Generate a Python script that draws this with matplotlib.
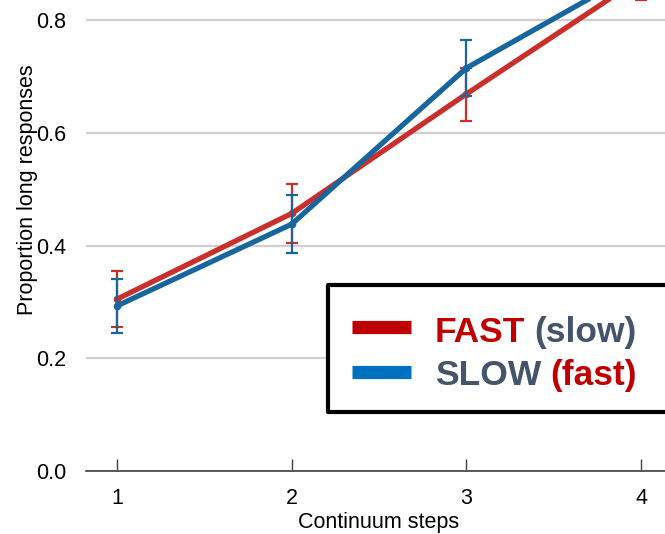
import matplotlib
matplotlib.use("Agg")
import matplotlib.pyplot as plt
from matplotlib.patches import Rectangle
from matplotlib.lines import Line2D

plt.rcParams['font.family'] = ['Liberation Sans', 'DejaVu Sans']

# proportion of "long" responses per continuum step, with error bars
steps = [1, 2, 3, 4]
fast = [0.305, 0.457, 0.669, 0.875]
fast_err = [0.050, 0.052, 0.047, 0.040]
slow = [0.293, 0.438, 0.715, 0.890]
slow_err = [0.048, 0.052, 0.050, 0.050]

y_ticks = [0.0, 0.2, 0.4, 0.6, 0.8]
legend_names = ['FAST', 'SLOW']
legend_notes = ['(slow)', '(fast)']

red = '#C9302C'
blue = '#17679E'
key_red = '#C00000'
key_blue = '#0070C0'
slate = '#44546A'

W, H = 665, 534
fig = plt.figure(figsize=(W / 100, H / 100), dpi=100)
ax = fig.add_axes([86 / W, 63 / H, 586 / W, 563.5 / H])

ax.errorbar(steps, fast, yerr=fast_err, color=red, lw=3.8, elinewidth=1.6,
            capsize=4.5, capthick=1.6, marker='o', ms=4.5, zorder=3,
            solid_capstyle='round')
ax.errorbar(steps, slow, yerr=slow_err, color=blue, lw=3.8, elinewidth=1.6,
            capsize=4.5, capthick=1.6, marker='o', ms=4.5, zorder=4,
            solid_capstyle='round')

ax.set_xlim(0.8226, 4.1774)
ax.set_ylim(0, 1.0)
ax.set_xticks(steps)
ax.set_yticks(y_ticks)
ax.set_yticklabels(['%.1f' % v for v in y_ticks])

for side in ['top', 'right', 'left']:
    ax.spines[side].set_visible(False)
ax.spines['bottom'].set_color('#404040')
ax.spines['bottom'].set_linewidth(1.2)

ax.yaxis.grid(True, color='#CFCFCF', lw=1.6)
ax.set_axisbelow(True)
ax.tick_params(axis='x', direction='in', length=9, width=1.0, color='#404040',
               pad=12, labelsize=15.5)
ax.tick_params(axis='y', length=0, pad=14, labelsize=15.5)

ax.set_xlabel('Continuum steps', fontsize=15.5)
ax.xaxis.set_label_coords(0.5, -0.072)
ax.set_ylabel('Proportion long responses', fontsize=15.5)
ax.yaxis.set_label_coords(-0.082, 0.5)


def fx(x):
    return x / W


def fy(y):
    return 1 - y / H


# key box, drawn by hand so each label can carry two colours
fig.add_artist(Rectangle((fx(328), fy(412)), fx(760 - 328), 127 / H,
                         transform=fig.transFigure, fc='white', ec='black',
                         lw=3, joinstyle='round', zorder=10))
key_colors = [key_red, key_blue]
name_colors = [key_red, slate]
note_colors = [slate, key_red]
rows = [(327, 342), (372, 385)]
for i, (ly, base) in enumerate(rows):
    fig.add_artist(Line2D([fx(352), fx(411)], [fy(ly), fy(ly)],
                          transform=fig.transFigure, color=key_colors[i],
                          lw=9.5, solid_capstyle='butt', zorder=11))
    name = fig.text(fx(435), fy(base), legend_names[i], color=name_colors[i],
                    fontsize=25.5, fontweight='bold', va='baseline', zorder=11)
    note = fig.text(0, 0, legend_notes[i], color=note_colors[i],
                    fontsize=25.5, fontweight='bold', va='baseline', zorder=11)
    # put the note one space after the name
    fig.canvas.draw()
    bb = name.get_window_extent()
    note.set_position((fx(bb.x1 + 9), fy(base)))

fig.savefig('out.png', dpi=100)
